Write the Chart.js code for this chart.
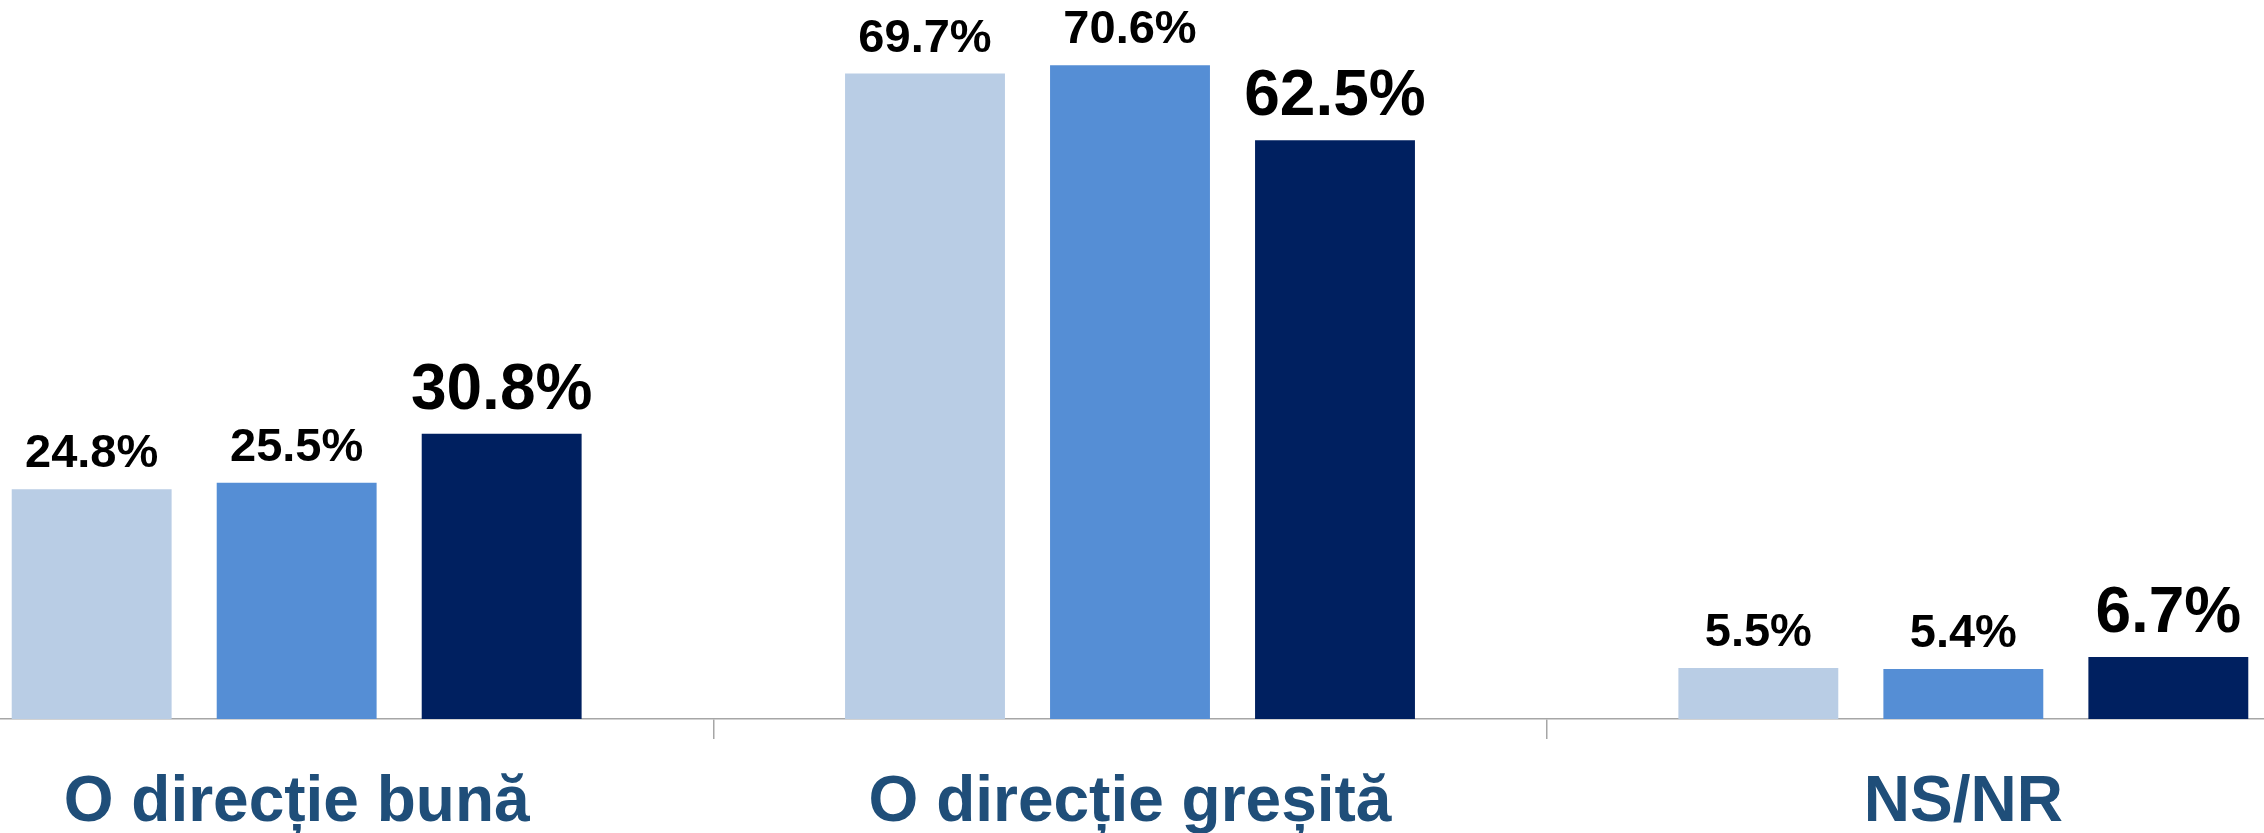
<!DOCTYPE html>
<html>
<head>
<meta charset="utf-8">
<script src="https://cdn.jsdelivr.net/npm/chart.js@4"></script>
<style>
  html, body { margin: 0; padding: 0; background: #fff; overflow: hidden; }
  .chart-wrap { position: absolute; left: -120px; top: 0; width: 2500px; height: 833px; }
</style>
</head>
<body>
<div class="chart-wrap">
  <canvas id="chart" width="2500" height="833"></canvas>
</div>
<script>
const categories = ['O direcție bună', 'O direcție greșită', 'NS/NR'];
const serie1 = [24.8, 69.7, 5.5];
const serie2 = [25.5, 70.6, 5.4];
const serie3 = [30.8, 62.5, 6.7];
const seriesNames = ['Sondaj 1', 'Sondaj 2', 'Sondaj 3'];
const colors = ['#B9CDE5', '#558ED5', '#002060'];

// value labels above the bars (last series drawn bigger)
const valueLabels = {
  id: 'valueLabels',
  afterDatasetsDraw(chart) {
    const ctx = chart.ctx;
    ctx.save();
    ctx.fillStyle = '#000';
    ctx.textAlign = 'center';
    ctx.textBaseline = 'alphabetic';
    chart.data.datasets.forEach((ds, i) => {
      const meta = chart.getDatasetMeta(i);
      const big = i === 2;
      ctx.font = 'bold ' + (big ? 64 : 47) + 'px "Liberation Sans", Arial, sans-serif';
      meta.data.forEach((bar, j) => {
        ctx.fillText(ds.data[j].toFixed(1) + '%', bar.x, bar.y - (big ? 25 : 22));
      });
    });
    ctx.restore();
  }
};

const ctx = document.getElementById('chart').getContext('2d');
new Chart(ctx, {
  type: 'bar',
  data: {
    labels: categories,
    datasets: [serie1, serie2, serie3].map((d, i) => ({
      label: seriesNames[i],
      data: d,
      backgroundColor: colors[i],
      borderWidth: 0,
      barPercentage: 0.78,
      categoryPercentage: 0.738,
    })),
  },
  options: {
    responsive: false,
    animation: false,
    layout: { padding: { top: 24.5, left: 0, right: 0, bottom: 0 } },
    plugins: {
      legend: { display: false },
      tooltip: { enabled: false },
    },
    scales: {
      x: {
        offset: true,
        afterFit: (scale) => { scale.height = 114; },
        grid: {
          display: true,
          offset: true,
          drawOnChartArea: false,
          drawTicks: true,
          tickLength: 20,
          color: '#A6A6A6',
          lineWidth: 1.5,
        },
        border: { display: true, color: '#A6A6A6', width: 1.5 },
        ticks: {
          color: '#1F4E79',
          padding: 26,
          maxRotation: 0,
          font: { family: '"Liberation Sans", Arial, sans-serif', size: 64, weight: 'bold' },
        },
      },
      y: {
        display: false,
        min: 0,
        max: 75,
      },
    },
  },
  plugins: [valueLabels],
});
</script>
</body>
</html>
